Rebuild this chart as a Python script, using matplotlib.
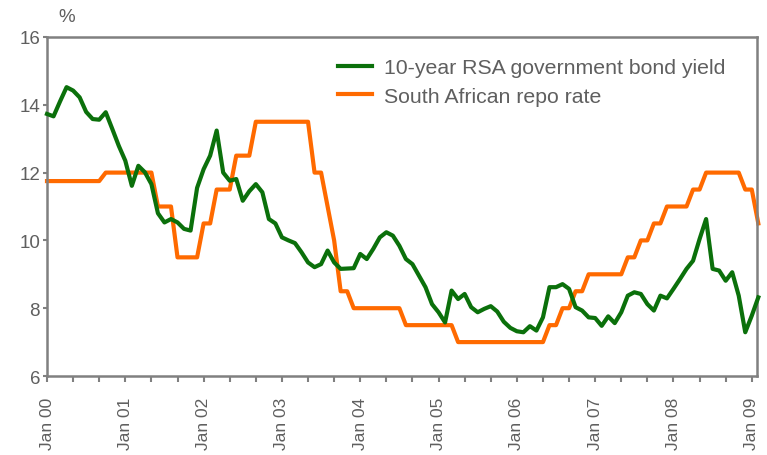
import numpy as np
import matplotlib
matplotlib.use("Agg")
import matplotlib.pyplot as plt

# Monthly data, Jan 2000 - Feb 2009
bond_yield = [
    13.73, 13.66, 14.10, 14.52, 14.42, 14.22, 13.79, 13.58, 13.56, 13.78,  # 2000
    13.29, 12.79,
    12.35, 11.61, 12.20, 12.01, 11.66, 10.80, 10.53, 10.63, 10.53, 10.34,  # 2001
    10.29, 11.55,
    12.10, 12.50, 13.24, 12.00, 11.76, 11.81, 11.17, 11.45, 11.66, 11.42,  # 2002
    10.63, 10.50,
    10.09, 10.00, 9.92, 9.65, 9.35, 9.21, 9.30, 9.70, 9.35, 9.16,  # 2003
    9.17, 9.18,
    9.60, 9.45, 9.75, 10.09, 10.24, 10.14, 9.84, 9.45, 9.30, 8.96,  # 2004
    8.62, 8.12,
    7.88, 7.58, 8.52, 8.27, 8.42, 8.03, 7.88, 7.98, 8.06, 7.90,  # 2005
    7.60, 7.42,
    7.32, 7.29, 7.47, 7.34, 7.73, 8.62, 8.62, 8.71, 8.57, 8.03,  # 2006
    7.93, 7.73,
    7.71, 7.48, 7.76, 7.56, 7.88, 8.37, 8.47, 8.42, 8.12, 7.93,  # 2007
    8.37, 8.29,
    8.57, 8.86, 9.16, 9.40, 10.04, 10.63, 9.16, 9.11, 8.81, 9.06,  # 2008
    8.37, 7.29,
    7.78, 8.32,  # 2009
]

repo_rate = (
    [11.75] * 9 + [12.0] * 8 + [11.0] * 3 + [9.5] * 4 + [10.5] * 2
    + [11.5] * 3 + [12.5] * 3 + [13.5] * 9 + [12.0] * 2 + [11.0] + [10.0]
    + [8.5] * 2 + [8.0] * 8 + [7.5] * 8 + [7.0] * 14 + [7.5] * 2 + [8.0] * 2
    + [8.5] * 2 + [9.0] * 6 + [9.5] * 2 + [10.0] * 2 + [10.5] * 2 + [11.0] * 4
    + [11.5] * 2 + [12.0] * 6 + [11.5] * 2 + [10.5]
)

year_labels = ["Jan 00", "Jan 01", "Jan 02", "Jan 03", "Jan 04",
               "Jan 05", "Jan 06", "Jan 07", "Jan 08", "Jan 09"]

GREEN = "#0b700b"
ORANGE = "#ff6a00"
GREY = "#808080"
TEXT = "#5f5f5f"

plt.rcParams["font.family"] = ["Liberation Sans", "DejaVu Sans"]

fig = plt.figure(figsize=(7.67, 4.56), dpi=100)
ax = fig.add_axes([47 / 767, 1 - 377 / 456, (757 - 47) / 767, (377 - 38) / 456])

months = np.arange(len(bond_yield))
ax.plot(months, bond_yield, color=GREEN, lw=3.0, solid_joinstyle="round",
        label="10-year RSA government bond yield", clip_on=False, zorder=3)
ax.plot(np.arange(len(repo_rate)), repo_rate, color=ORANGE, lw=3.0,
        solid_joinstyle="round", label="South African repo rate",
        clip_on=False, zorder=2)

ax.set_xlim(0, 108.8)
ax.set_ylim(6, 16)
ax.set_yticks(np.arange(6, 17, 2))

ax.set_xticks(np.arange(0, 109, 4), minor=True)
ax.set_xticks(np.arange(0, 109, 12))
ax.set_xticklabels(year_labels, rotation=90)

for s in ax.spines.values():
    s.set_color(GREY)
    s.set_linewidth(1.8)

ax.tick_params(axis="both", which="both", colors=GREY, width=1.5,
               labelcolor=TEXT)
ax.tick_params(axis="x", which="both", length=4, direction="out",
               labelsize=12.5, pad=11)
ax.tick_params(axis="y", length=3, direction="out", labelsize=13.5, pad=2)

fig.text(67 / 767, 1 - 18 / 456, "%", color=TEXT, fontsize=13.5,
         ha="center", va="center")

ax.legend(loc="upper left", bbox_to_anchor=(338 / 767, 1 - 59 / 456),
          bbox_transform=fig.transFigure, frameon=False, fontsize=15.3,
          handlelength=1.6, handletextpad=0.55, labelspacing=0.45,
          borderpad=0, borderaxespad=0, labelcolor=TEXT)

fig.savefig("out.png", dpi=100)
